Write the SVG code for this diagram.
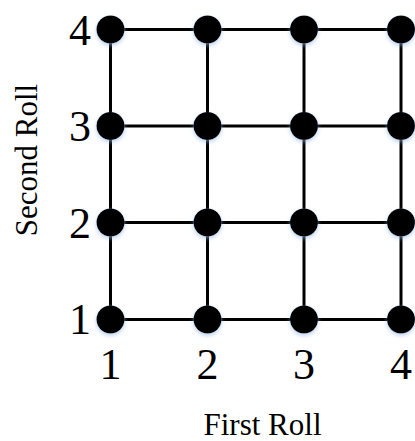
<svg xmlns="http://www.w3.org/2000/svg" width="415" height="441" viewBox="0 0 415 441">
<style>
.ln{stroke:#000;stroke-width:3;fill:none}
.dot{fill:#000;filter:url(#glow)}
.lbl{font-family:"Liberation Serif","Times New Roman",serif;font-size:44px;fill:#000}
.ax{font-family:"Liberation Serif","Times New Roman",serif;font-size:31px;fill:#000}
</style>
<defs>
<filter id="glow" x="-50%" y="-50%" width="200%" height="200%">
<feGaussianBlur in="SourceAlpha" stdDeviation="2"/>
<feOffset dx="0" dy="2" result="b"/>
<feFlood flood-color="#8fb4e0" flood-opacity="0.6"/>
<feComposite in2="b" operator="in"/>
<feMerge><feMergeNode/><feMergeNode in="SourceGraphic"/></feMerge>
</filter>
<circle id="d" r="14" class="dot"/>
</defs>
<rect width="415" height="441" fill="#fff"/>
<g id="connectors">
<line class="ln" x1="110.5" y1="29.5" x2="401" y2="29.5"/>
<line class="ln" x1="110.5" y1="126" x2="401" y2="126"/>
<line class="ln" x1="110.5" y1="222.5" x2="401" y2="222.5"/>
<line class="ln" x1="110.5" y1="319.5" x2="401" y2="319.5"/>
<line class="ln" x1="110.5" y1="29.5" x2="110.5" y2="319.5"/>
<line class="ln" x1="207.5" y1="29.5" x2="207.5" y2="319.5"/>
<line class="ln" x1="304" y1="29.5" x2="304" y2="319.5"/>
<line class="ln" x1="401" y1="29.5" x2="401" y2="319.5"/>
</g>
<g id="n11"><use href="#d" x="110.5" y="319.5"/></g>
<g id="n21"><use href="#d" x="207.5" y="319.5"/></g>
<g id="n31"><use href="#d" x="304" y="319.5"/></g>
<g id="n41"><use href="#d" x="401" y="319.5"/></g>
<g id="n12"><use href="#d" x="110.5" y="222.5"/></g>
<g id="n22"><use href="#d" x="207.5" y="222.5"/></g>
<g id="n32"><use href="#d" x="304" y="222.5"/></g>
<g id="n42"><use href="#d" x="401" y="222.5"/></g>
<g id="n13"><use href="#d" x="110.5" y="126"/></g>
<g id="n23"><use href="#d" x="207.5" y="126"/></g>
<g id="n33"><use href="#d" x="304" y="126"/></g>
<g id="n43"><use href="#d" x="401" y="126"/></g>
<g id="n14"><use href="#d" x="110.5" y="29.5"/></g>
<g id="n24"><use href="#d" x="207.5" y="29.5"/></g>
<g id="n34"><use href="#d" x="304" y="29.5"/></g>
<g id="n44"><use href="#d" x="401" y="29.5"/></g>
<g id="ylabels" class="lbl" text-anchor="end">
<text x="91" y="45">4</text>
<text x="91" y="141">3</text>
<text x="91" y="238">2</text>
<text x="91" y="334">1</text>
</g>
<g id="xlabels" class="lbl" text-anchor="middle">
<text x="110.5" y="379">1</text>
<text x="207.5" y="379">2</text>
<text x="304" y="379">3</text>
<text x="401" y="379">4</text>
</g>
<text class="ax" x="262.5" y="435" text-anchor="middle">First Roll</text>
<text class="ax" transform="translate(37,160) rotate(-90)" text-anchor="middle">Second Roll</text>
</svg>
